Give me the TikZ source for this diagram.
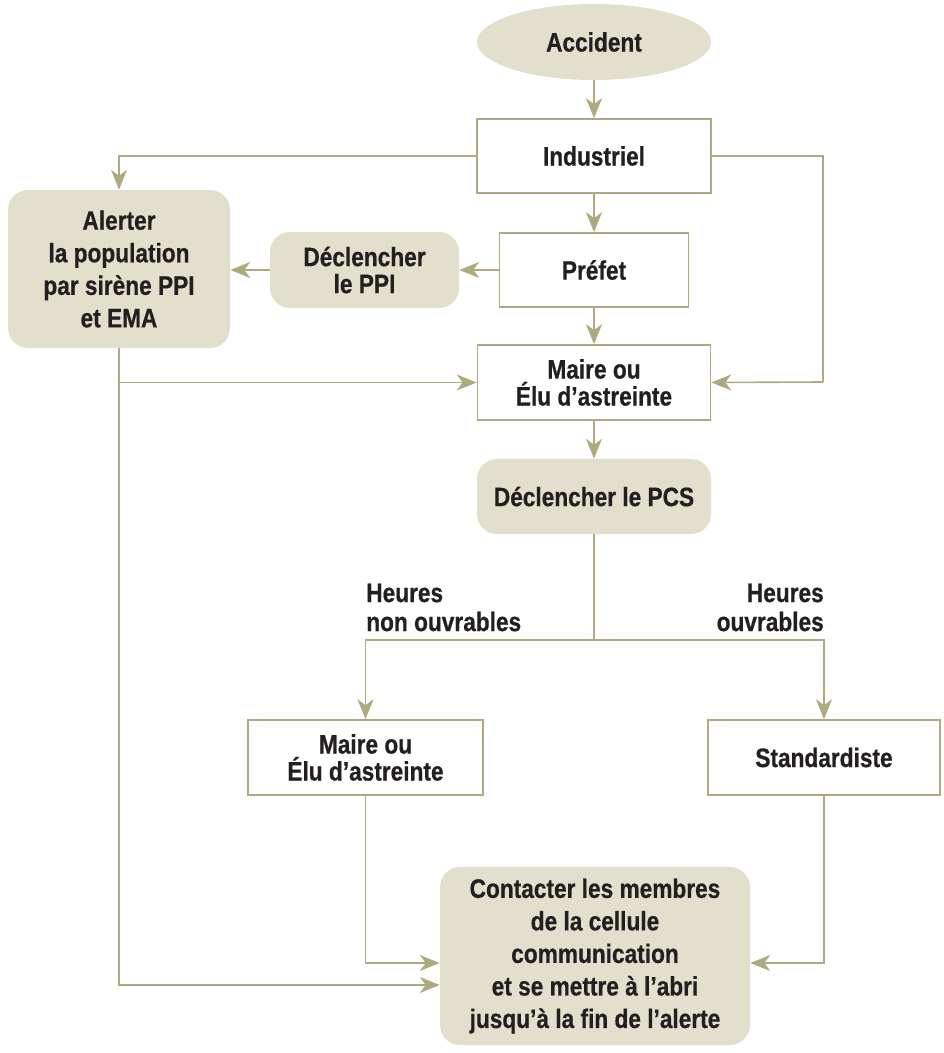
\documentclass[tikz,border=0pt]{standalone}
\usepackage{fontspec}
\setmainfont{Liberation Sans}[FakeStretch=0.85,FakeBold=0.6]
\usetikzlibrary{shapes.geometric,arrows.meta,calc}
\definecolor{boxfill}{HTML}{E3DFCD}
\definecolor{olive}{HTML}{AFA980}
\definecolor{txt}{HTML}{231F20}
\begin{document}
\begin{tikzpicture}[x=0.75pt,y=-0.75pt,
  every node/.style={font=\fontsize{20}{24.4}\selectfont\bfseries, text=txt, align=center, inner sep=0pt},
  plainbox/.style={draw=olive, line width=1.2pt, fill=white, rectangle},
  softbox/.style={fill=boxfill, rectangle, rounded corners=15pt},
  conn/.style={draw=olive, line width=1.2pt, -{Stealth[length=15pt,width=12pt,inset=4.5pt]}},
  line/.style={draw=olive, line width=1.2pt},
  tight/.style={font=\fontsize{20}{20.25}\selectfont\bfseries}
]
\useasboundingbox (0,0) rectangle (944,1053);

\node[ellipse, fill=boxfill, minimum width=175.5pt, minimum height=57pt] (acc) at (594,42) {Accident};
\node[plainbox, minimum width=175.5pt, minimum height=55.5pt] (ind) at (594,156) {Industriel};
\node[softbox, minimum width=166.5pt, minimum height=118.5pt] (alert) at (119,269) {Alerter\\la population\\par sirène PPI\\et EMA};
\node[softbox, tight, minimum width=141.75pt, minimum height=57pt] (ppi) at (364.5,270) {Déclencher\\le PPI};
\node[plainbox, minimum width=141.75pt, minimum height=55.5pt] (pref) at (594,270) {Préfet};
\node[plainbox, tight, minimum width=174.75pt, minimum height=56.25pt] (maire) at (594,382.5) {Maire ou\\Élu d’astreinte};
\node[softbox, minimum width=175.5pt, minimum height=56.25pt] (pcs) at (594,496.5) {Déclencher le PCS};
\node[plainbox, tight, minimum width=176.25pt, minimum height=56.25pt] (maire2) at (365.5,757.5) {Maire ou\\Élu d’astreinte};
\node[plainbox, minimum width=174pt, minimum height=56.25pt] (std) at (824,757.5) {Standardiste};
\node[softbox, minimum width=232.5pt, minimum height=133.5pt] (cont) at (595,956) {Contacter les membres\\de la cellule\\communication\\et se mettre à l’abri\\jusqu’à la fin de l’alerte};

\node[anchor=west, align=left, font=\fontsize{20}{21.75}\selectfont\bfseries] (lnon) at (366,607.5) {Heures\\non ouvrables};
\node[anchor=east, align=right, font=\fontsize{20}{21.75}\selectfont\bfseries] (louv) at (824,607.5) {Heures\\ouvrables};

\coordinate (rt) at (823,382);
\coordinate (split) at (594,640);

\draw[conn] (acc.south) -- (ind.north);
\draw[conn] (ind.west) -| (alert.north);
\draw[line] (ind.east) -| (rt);
\draw[conn] (rt) -- (maire.east);
\draw[conn] (ind.south) -- (pref.north);
\draw[conn] (pref.west) -- (ppi.east |- pref.west);
\draw[conn] (ppi.west) -- (alert.east |- ppi.west);
\draw[conn] (pref.south) -- (maire.north);
\draw[conn] (alert.south |- maire.west) -- (maire.west);
\draw[conn] (alert.south) |- ([yshift=-21.75pt]cont.west);
\draw[conn] (maire.south) -- (pcs.north);
\draw[line] (pcs.south) -- (split);
\draw[conn] (split) -| (maire2.north);
\draw[conn] (split) -| (std.north);
\draw[conn] (maire2.south) |- ([yshift=-5.25pt]cont.west);
\draw[conn] (std.south) |- ([yshift=-5.25pt]cont.east);
\end{tikzpicture}
\end{document}
